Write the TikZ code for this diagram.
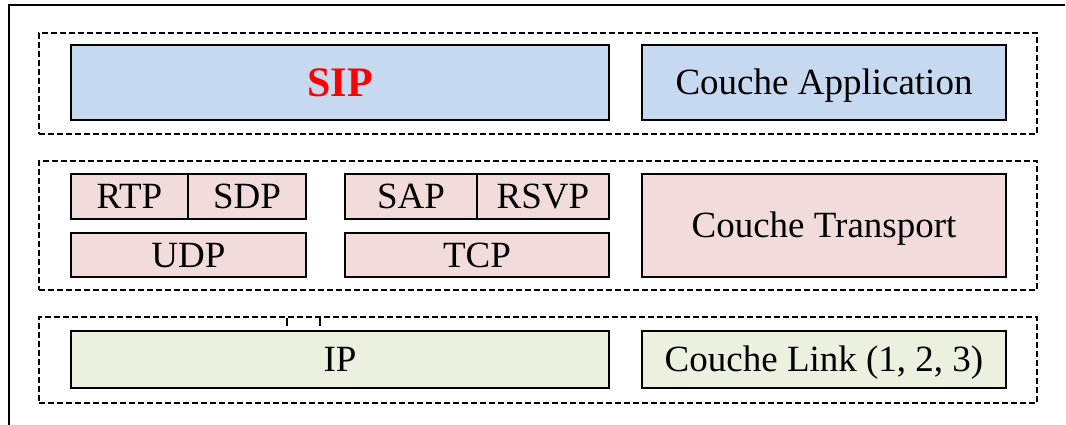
\documentclass[tikz,border=0pt]{standalone}
\usepackage{fontspec}
\setmainfont{Liberation Serif}
\definecolor{appblue}{HTML}{C6D9F1}
\definecolor{trpink}{HTML}{F2DCDB}
\definecolor{lkgreen}{HTML}{EBF1DE}
\definecolor{sipred}{HTML}{FF0000}
\tikzset{
  layerbox/.style={draw=black, line width=2.5pt, rectangle, inner sep=0pt, outer sep=0pt,
    anchor=north west, font=\fontsize{37}{40}\selectfont,
    text height=24.5pt, text depth=0pt},
  groupbox/.style={draw=black, line width=2.2pt, dash pattern=on 6pt off 3pt, rectangle,
    inner sep=0pt, outer sep=0pt, anchor=north west},
}
\begin{document}
\begin{tikzpicture}[x=1pt,y=-1pt]
\useasboundingbox (0,0) rectangle (1066,425);
% frame
\coordinate (fbl) at (9,425);
\coordinate (ftl) at (9,5);
\coordinate (ftr) at (1065,5);
\draw[line width=2.5pt] (fbl) -- (ftl) -- (ftr);

% layer groups
\node[groupbox, minimum width=998pt, minimum height=101pt] (gapp) at (39,33) {};
\node[groupbox, minimum width=998pt, minimum height=129pt] (gtr) at (39,161) {};
\node[groupbox, minimum width=998pt, minimum height=86pt] (glk) at (39,317) {};

% application layer
\node[layerbox, fill=appblue, minimum width=538pt, minimum height=75pt,
  font=\fontsize{42}{44}\selectfont\bfseries, text height=28pt, text=sipred] (sip) at (71,45) {SIP};
\node[layerbox, fill=appblue, minimum width=364pt, minimum height=75pt] (capp) at (642,45) {Couche Application};

% transport layer
\node[layerbox, fill=trpink, minimum width=117pt, minimum height=45pt] (rtp) at (71,174) {RTP};
\node[layerbox, fill=trpink, minimum width=118pt, minimum height=45pt] (sdp) at (188,174) {SDP};
\node[layerbox, fill=trpink, minimum width=235pt, minimum height=44pt] (udp) at (71,233) {UDP};
\node[layerbox, fill=trpink, minimum width=132pt, minimum height=45pt] (sap) at (345,174) {SAP};
\node[layerbox, fill=trpink, minimum width=132pt, minimum height=45pt] (rsvp) at (477,174) {RSVP};
\node[layerbox, fill=trpink, minimum width=264pt, minimum height=44pt] (tcp) at (345,233) {TCP};
\node[layerbox, fill=trpink, minimum width=364pt, minimum height=103pt] (ctr) at (642,174) {Couche Transport};

% link layer
\node[layerbox, fill=lkgreen, minimum width=538pt, minimum height=57pt] (ip) at (71,331) {IP};
\node[layerbox, fill=lkgreen, minimum width=364pt, minimum height=57pt] (clk) at (642,331) {Couche Link (1, 2, 3)};

% small ticks under the link group edge
\coordinate (t1a) at (287,318);
\coordinate (t1b) at (287,326);
\coordinate (t2a) at (320,318);
\coordinate (t2b) at (320,326);
\draw[line width=1.5pt] (t1a) -- (t1b);
\draw[line width=1.5pt] (t2a) -- (t2b);
\end{tikzpicture}
\end{document}
